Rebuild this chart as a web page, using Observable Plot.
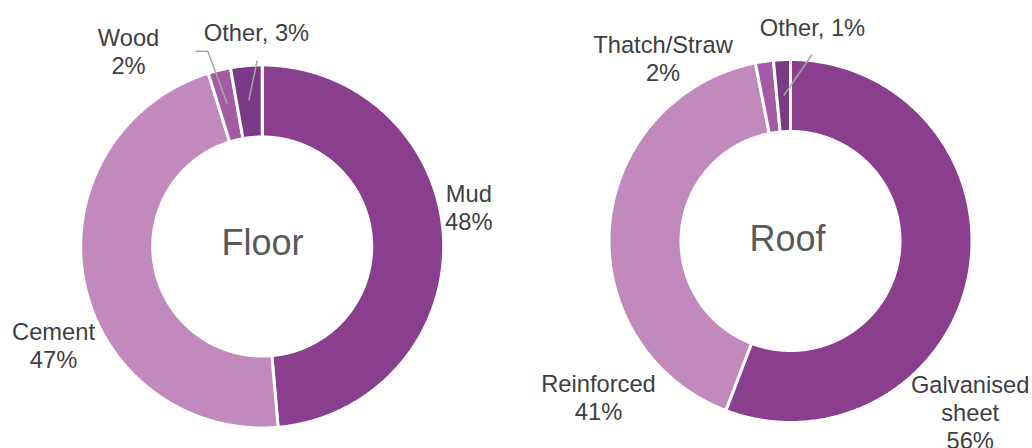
<!DOCTYPE html>
<html>
<head>
<meta charset="utf-8">
<script src="https://cdn.jsdelivr.net/npm/d3@7"></script>
<script src="https://cdn.jsdelivr.net/npm/@observablehq/plot@0.6"></script>
<style>
  html, body { margin: 0; padding: 0; background: #ffffff; }
  #chart { width: 1032px; height: 448px; }
</style>
</head>
<body>
<div id="chart"></div>
<script>
// ---- Data ----
const floorCategories = ["Mud", "Cement", "Wood", "Other"];
const floorValues = [48.6, 46.6, 2.0, 2.8];
const floorLabels = ["Mud\n48%", "Cement\n47%", "Wood\n2%", "Other, 3%"];

const roofCategories = ["Galvanised sheet", "Reinforced", "Thatch/Straw", "Other"];
const roofValues = [55.8, 41.1, 1.6, 1.5];
const roofLabels = ["Galvanised\nsheet\n56%", "Reinforced\n41%", "Thatch/Straw\n2%", "Other, 1%"];

const chartTitles = ["Floor", "Roof"];

// ---- Layout (pixels) ----
const W = 1032, H = 448;
const OUTER = 181.5, INNER = 109.5;
const centers = [[261.7, 246], [790, 240.5]];
const titleBaselines = [[262, 254], [787, 250]];
const labelPos = [
  [[468.3, 229.3], [53, 367], [128, 73.3], [256, 40]],
  [[969.7, 448.7], [598, 419], [662.5, 80], [812, 35]]
];
const leaders = [
  {id: "floor-wood", pts: [[195, 50.7], [207.3, 50.7], [226.7, 103.3]]},
  {id: "floor-other", pts: [[256.7, 60], [248.3, 100]]},
  {id: "roof-other", pts: [[811.7, 54], [783.3, 95]]}
];
const sliceColors = ["#893F8E", "#C189BC", "#A35CA4", "#7B3A88"];

// ---- Build slice polygons from values ----
const donuts = [
  {cats: floorCategories, vals: floorValues, labels: floorLabels},
  {cats: roofCategories, vals: roofValues, labels: roofLabels}
];
const slicePts = [];
const labelRows = [];
donuts.forEach((dn, di) => {
  const [cx, cy] = centers[di];
  const total = d3.sum(dn.vals);
  let acc = 0;
  dn.vals.forEach((v, i) => {
    const a0 = acc / total * 2 * Math.PI;
    acc += v;
    const a1 = acc / total * 2 * Math.PI;
    const key = di + "-" + i;
    const n = Math.max(2, Math.ceil((a1 - a0) / (Math.PI / 360)));
    for (let k = 0; k <= n; k++) {
      const a = a0 + (a1 - a0) * k / n;
      slicePts.push({key, rank: i, x: cx + OUTER * Math.sin(a), y: cy - OUTER * Math.cos(a)});
    }
    for (let k = n; k >= 0; k--) {
      const a = a0 + (a1 - a0) * k / n;
      slicePts.push({key, rank: i, x: cx + INNER * Math.sin(a), y: cy - INNER * Math.cos(a)});
    }
    labelRows.push({text: dn.labels[i], x: labelPos[di][i][0], y: labelPos[di][i][1]});
  });
});
const titleRows = chartTitles.map((t, i) => ({text: t, x: titleBaselines[i][0], y: titleBaselines[i][1]}));
const leaderPts = leaders.flatMap(l => l.pts.map(p => ({id: l.id, x: p[0], y: p[1]})));

const plot = Plot.plot({
  width: W,
  height: H,
  margin: 0,
  x: {domain: [0, W], range: [0, W], axis: null},
  y: {domain: [0, H], range: [0, H], axis: null},
  color: {type: "ordinal", domain: [0, 1, 2, 3], range: sliceColors},
  style: {fontFamily: "'Liberation Sans', Arial, sans-serif", background: "#ffffff", overflow: "visible"},
  marks: [
    Plot.line(slicePts, {
      x: "x", y: "y", z: "key", fill: "rank",
      stroke: "#ffffff", strokeWidth: 3, strokeLinejoin: "miter", strokeMiterlimit: 4,
      curve: "linear-closed"
    }),
    Plot.line(leaderPts, {
      x: "x", y: "y", z: "id", stroke: "#A6A6A6", strokeWidth: 1.5,
      strokeLinecap: "butt", strokeLinejoin: "miter"
    }),
    Plot.text(labelRows, {
      x: "x", y: "y", text: "text", fill: "#404040", fontSize: 23.7,
      lineAnchor: "bottom", lineHeight: 1.18, textAnchor: "middle"
    }),
    Plot.text(titleRows, {
      x: "x", y: "y", text: "text", fill: "#595959", fontSize: 36,
      lineAnchor: "bottom", textAnchor: "middle"
    })
  ]
});
document.getElementById("chart").appendChild(plot);
</script>
</body>
</html>
